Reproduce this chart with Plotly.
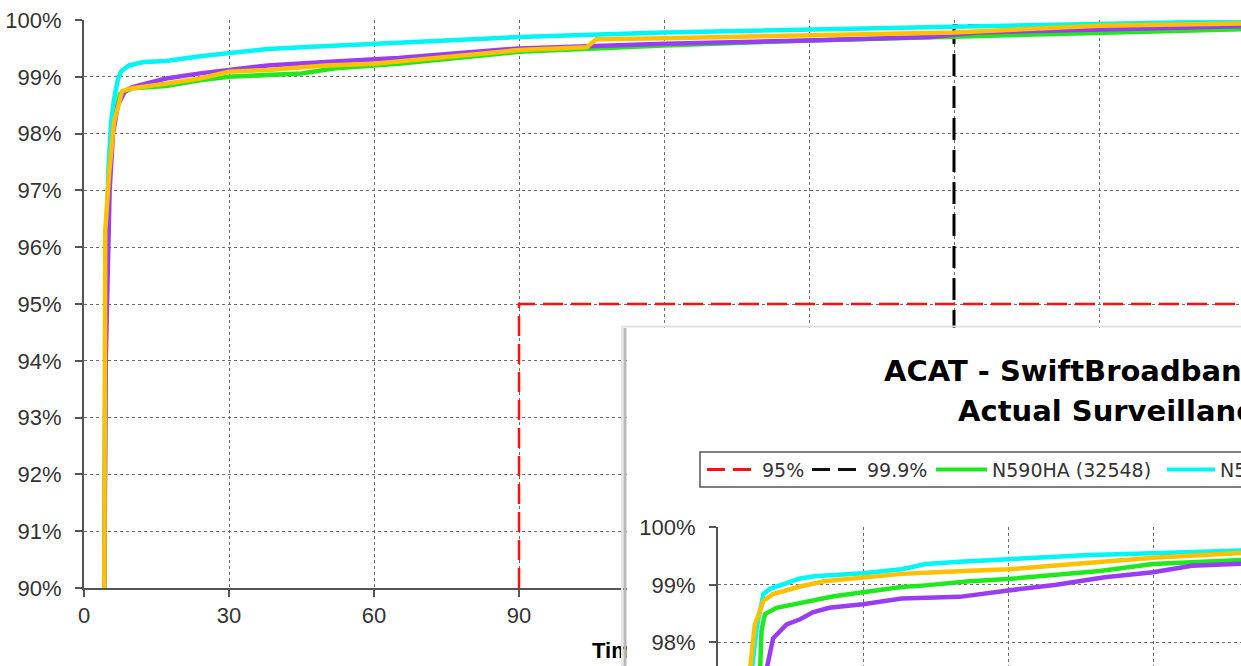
import plotly.graph_objects as go

W, H = 1241, 666

# ---------------- main chart data (time in seconds, cumulative %) ----------------
main_green_t = [4.2, 4.5, 5.2, 6.2, 7.5, 10, 17, 24, 30, 38, 45, 52, 60, 65, 90, 120, 150, 180, 210, 240]
main_green_v = [90, 96, 97.4, 98.3, 98.7, 98.8, 98.84, 98.94, 99.0, 99.03, 99.06, 99.15, 99.2, 99.23,
                99.44, 99.55, 99.64, 99.71, 99.78, 99.84]

main_cyan_t = [4.2, 4.5, 5.0, 5.6, 6.2, 7.0, 7.7, 9.3, 12.4, 17, 24, 30, 38, 45, 52, 60, 65, 90, 120,
               150, 180, 210, 240]
main_cyan_v = [90, 95, 97.3, 98.2, 98.6, 98.95, 99.1, 99.2, 99.26, 99.28, 99.36, 99.41, 99.49, 99.52,
               99.55, 99.58, 99.61, 99.70, 99.78, 99.83, 99.89, 99.94, 99.98]

main_purple_t = [4.2, 4.5, 5.3, 6.0, 7.0, 8.5, 10, 17, 24, 30, 38, 50, 60, 65, 90, 120, 150, 175, 185,
                 210, 240]
main_purple_v = [90, 94, 97, 98.0, 98.5, 98.75, 98.82, 98.97, 99.06, 99.12, 99.2, 99.26, 99.3, 99.33,
                 99.5, 99.58, 99.64, 99.7, 99.78, 99.83, 99.89]

main_orange_t = [4.2, 4.4, 5.2, 6.2, 7.9, 10, 17, 24, 30, 38, 50, 60, 65, 90, 104, 106, 120, 150, 180,
                 210, 240]
main_orange_v = [90, 96.3, 97.3, 98.2, 98.75, 98.8, 98.88, 98.97, 99.09, 99.12, 99.2, 99.23, 99.27,
                 99.47, 99.52, 99.66, 99.68, 99.73, 99.78, 99.9, 99.94]

ref95_t = [90, 90, 240]
ref95_v = [90, 95, 95]
ref999_t = [180, 180, 240]
ref999_v = [90, 99.9, 99.9]

# ---------------- inset chart data ----------------
inset_green_t = [8.4, 8.7, 9.0, 9.7, 12.1, 17, 24, 30, 38, 43, 52, 60, 79, 90, 110]
inset_green_v = [90, 97.5, 98.2, 98.49, 98.6, 98.68, 98.8, 98.87, 98.96, 98.99, 99.06, 99.1, 99.24,
                 99.36, 99.44]

inset_cyan_t = [6.8, 7.0, 8.0, 9.4, 10.8, 14.2, 17, 20, 30, 38, 43, 50, 60, 77, 90, 110]
inset_cyan_v = [90, 97.5, 98.25, 98.84, 98.93, 99.02, 99.11, 99.15, 99.2, 99.27, 99.36, 99.4, 99.45,
                99.52, 99.55, 99.6]

inset_purple_t = [9.8, 10.1, 11.4, 14.2, 17, 19.6, 23, 30, 38, 50, 60, 70, 80, 90, 98, 110]
inset_purple_v = [90, 97.55, 98.07, 98.31, 98.4, 98.52, 98.6, 98.66, 98.76, 98.79, 98.9, 99.0, 99.13,
                  99.22, 99.33, 99.37]

inset_orange_t = [6.4, 6.6, 7.6, 9.4, 11.4, 17, 22, 30, 38, 45, 60, 75, 90, 110]
inset_orange_v = [90, 97.5, 98.3, 98.72, 98.84, 98.97, 99.06, 99.12, 99.19, 99.22, 99.27, 99.37,
                  99.47, 99.56]

legend_labels = ["95%", "99.9%", "N590HA (32548)", "N591HA"]
title_lines = ["ACAT - SwiftBroadband Performance", "Actual Surveillance Latency"]
x_title = "Time (seconds)"

C_GREEN = "#1FE81F"
C_CYAN = "#00F5F5"
C_PURPLE = "#9A3CF5"
C_ORANGE = "#FFC000"
C_RED = "#FF1010"

fig = go.Figure()


def line(t, v, color, width, xa, ya, dash=None):
    fig.add_trace(go.Scatter(x=t, y=v, mode="lines",
                             line=dict(color=color, width=width, dash=dash),
                             xaxis=xa, yaxis=ya, showlegend=False, hoverinfo="skip"))


# main chart
line(ref95_t, ref95_v, C_RED, 2.5, "x", "y", "20px,8px")
line(ref999_t, ref999_v, "#000000", 3, "x", "y", "22px,10px")
line(main_green_t, main_green_v, C_GREEN, 4.5, "x", "y")
line(main_cyan_t, main_cyan_v, C_CYAN, 4.5, "x", "y")
line(main_purple_t, main_purple_v, C_PURPLE, 4.5, "x", "y")
line(main_orange_t, main_orange_v, C_ORANGE, 4.5, "x", "y")

# main x-axis title, in a small helper subplot so the inset panel can cover it
fig.add_trace(go.Scatter(x=[0], y=[0.5], mode="text", text=["<b>" + x_title + "</b>"],
                         textposition="middle right", cliponaxis=False,
                         textfont=dict(family="Liberation Sans, Arial", size=22, color="#000"),
                         xaxis="x2", yaxis="y2", showlegend=False, hoverinfo="skip"))

# inset background panel (its own subplot, drawn above the main one)
fig.add_trace(go.Scatter(x=[0.5], y=[0.5], mode="markers", marker=dict(opacity=0),
                         xaxis="x3", yaxis="y3", showlegend=False, hoverinfo="skip"))

# inset chart
line(inset_green_t, inset_green_v, C_GREEN, 4.5, "x4", "y4")
line(inset_cyan_t, inset_cyan_v, C_CYAN, 4.5, "x4", "y4")
line(inset_purple_t, inset_purple_v, C_PURPLE, 4.5, "x4", "y4")
line(inset_orange_t, inset_orange_v, C_ORANGE, 4.5, "x4", "y4")

FONT = "Liberation Sans, Arial"
tickfont = dict(family=FONT, size=22, color="#333")
grid = dict(showgrid=True, gridcolor="#6e6e6e", griddash="dot", gridwidth=1, zeroline=False,
            automargin=False)
axline = dict(showline=True, linecolor="#555", linewidth=2, ticks="outside", ticklen=7,
              tickwidth=2, tickcolor="#555")
hidden = dict(range=[0, 1], visible=False, automargin=False)

PX_PER_S = 145 / 30.0
PX_PER_PCT_INSET = 57.5

fig.update_layout(
    width=W, height=H, margin=dict(l=0, r=0, t=0, b=0, pad=0, autoexpand=False),
    paper_bgcolor="white", plot_bgcolor="white", showlegend=False,
    xaxis=dict(domain=[84 / W, 1], range=[0, (W - 84) / PX_PER_S], tick0=0, dtick=30,
               anchor="y", tickfont=tickfont, **grid, **axline),
    yaxis=dict(domain=[1 - 588 / H, 1 - 20 / H], range=[90, 100], tick0=0, dtick=1,
               ticksuffix="%", anchor="x", tickfont=tickfont, ticklabelstandoff=9,
               **grid, **axline),
    xaxis2=dict(domain=[592 / W, 700 / W], anchor="y2", **hidden),
    yaxis2=dict(domain=[1 - 664 / H, 1 - 640 / H], anchor="x2", **hidden),
    xaxis3=dict(domain=[627 / W, 1], anchor="y3", **hidden),
    yaxis3=dict(domain=[0, 1 - 328 / H], anchor="x3", **hidden),
    xaxis4=dict(domain=[718 / W, 1], range=[0, (W - 718) / PX_PER_S], tick0=0, dtick=30,
                anchor="y4", showticklabels=False, ticks="", showline=False, **grid),
    yaxis4=dict(domain=[0, 1 - 527.3 / H], range=[100 - (H - 527.3) / PX_PER_PCT_INSET, 100],
                tick0=0, dtick=1, ticksuffix="%", anchor="x4", tickfont=tickfont,
                ticklabelstandoff=9, **grid, **axline),
)


def fx(px):
    return px / W


def fy(py):
    return 1 - py / H


shapes = []
# inset drop shadow
shapes.append(dict(type="line", xref="paper", yref="paper", x0=fx(622), x1=fx(622), y0=fy(326),
                   y1=fy(H), line=dict(color="#e6e6e6", width=2), layer="above"))
shapes.append(dict(type="line", xref="paper", yref="paper", x0=fx(625), x1=fx(625), y0=fy(328),
                   y1=fy(H), line=dict(color="#b8b8b8", width=3), layer="above"))
shapes.append(dict(type="line", xref="paper", yref="paper", x0=fx(623), x1=fx(W), y0=fy(326.5),
                   y1=fy(326.5), line=dict(color="#e2e2e2", width=2), layer="above"))

# inset legend frame
shapes.append(dict(type="rect", xref="paper", yref="paper", x0=fx(700), x1=fx(W + 20), y0=fy(487),
                   y1=fy(452), line=dict(color="#555", width=1.5), fillcolor="white", layer="above"))
LY = fy(469.5)
legend_items = [
    (707, 757, C_RED, "18px,8px", 760, legend_labels[0]),
    (812, 862, "#111", "18px,8px", 865, legend_labels[1]),
    (936, 987, C_GREEN, None, 990, legend_labels[2]),
    (1167, 1215, C_CYAN, None, 1218, legend_labels[3]),
]
annotations = []
for x0, x1, col, dash, tx, label in legend_items:
    ln = dict(color=col, width=4 if dash is None else 3)
    if dash:
        ln["dash"] = dash
    shapes.append(dict(type="line", xref="paper", yref="paper", x0=fx(x0), x1=fx(x1), y0=LY, y1=LY,
                       line=ln, layer="above"))
    annotations.append(dict(xref="paper", yref="paper", x=fx(tx), y=LY, xanchor="left",
                            yanchor="middle", text=label, showarrow=False,
                            font=dict(family="DejaVu Sans", size=19, color="#333")))

# inset title
annotations.append(dict(xref="paper", yref="paper", x=fx(882), y=fy(371), xanchor="left",
                        yanchor="middle", text="<b>" + title_lines[0] + "</b>", showarrow=False,
                        font=dict(family="DejaVu Sans", size=29, color="#000")))
annotations.append(dict(xref="paper", yref="paper", x=fx(956), y=fy(411), xanchor="left",
                        yanchor="middle", text="<b>" + title_lines[1] + "</b>", showarrow=False,
                        font=dict(family="DejaVu Sans", size=29, color="#000")))

fig.update_layout(shapes=shapes, annotations=annotations)

fig.write_html("out.html", config={"displayModeBar": False},
               post_script="document.body.style.margin='0';document.body.style.overflow='hidden';")
